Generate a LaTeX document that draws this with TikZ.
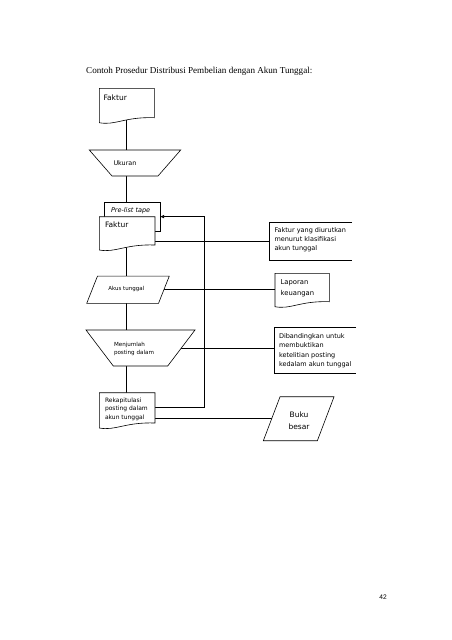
\documentclass[tikz,border=0pt]{standalone}
\usepackage{fontspec}
\usetikzlibrary{calc,arrows.meta}
\newfontfamily\comicf{DejaVu Sans}
\newfontfamily\titlef{Liberation Serif}
\newfontfamily\numf{Liberation Sans}
\pgfdeclarelayer{bglayer}
\pgfdeclarelayer{connlayer}
\pgfsetlayers{bglayer,connlayer,main}
\tikzset{
  ln/.style={line width=0.6pt},
  docline/.style={ln, draw=black, fill=white},
  docbox/.style={rectangle, draw=none, inner sep=0, outer sep=0},
  boxshape/.style={rectangle, draw, ln, fill=white, inner sep=0, outer sep=0},
  conn/.style={ln, draw},
  lbl/.style={inner sep=0, outer sep=0, align=left, anchor=north west},
  fsm/.style={font=\comicf\fontsize{#1}{10}\selectfont},
}
\newcommand\drawdoc[1]{\draw[docline] (#1.south west) -- (#1.north west) -- (#1.north east) -- ($(#1.south east)+(0,-5)$) .. controls ($(#1.south west)!0.46!(#1.south east)+(0,-6)$) and ($(#1.south west)!0.29!(#1.south east)+(0,3)$) .. (#1.south west) -- cycle;}
\newcommand\drawtrap[2]{\draw[docline] (#1.north west) -- (#1.north east) -- ([xshift=-#2pt]#1.south east) -- ([xshift=#2pt]#1.south west) -- cycle;}
\newcommand\drawpara[2]{\draw[docline] (#1.south west) -- ([xshift=-#2pt]#1.south east) -- (#1.north east) -- ([xshift=#2pt]#1.north west) -- cycle;}
\begin{document}
\begin{tikzpicture}[x=1pt,y=-1pt]
\begin{pgfonlayer}{bglayer}
\fill[white] (0,0) rectangle (452,640);
\end{pgfonlayer}
\useasboundingbox (0,0) rectangle (452,640);

\node[anchor=base west, inner sep=0, font=\titlef\fontsize{9.1}{11}\selectfont] (title) at (86,73.3) {Contoh Prosedur Distribusi Pembelian dengan Akun Tunggal:};

% shapes
\node[docbox, minimum width=55, minimum height=34.4] (fak1) at (126.8,105.5) {};
\drawdoc{fak1}
\node[docbox, minimum width=91.4, minimum height=26] (uk) at (135,163) {};
\drawtrap{uk}{22.7}
\node[boxshape, minimum width=56, minimum height=28.7] (pre) at (132,216.65) {};
\node[docbox, minimum width=55.7, minimum height=33.3] (fak2) at (127.15,233.35) {};
\drawdoc{fak2}
\node[docbox, minimum width=82.7, minimum height=38.4] (ann1) at (310.65,241.5) {};
\draw[ln] (ann1.north east) -- (ann1.north west) -- (ann1.south west) -- (ann1.south east);
\node[docbox, minimum width=82.6, minimum height=27.3] (akun) at (128,289.7) {};
\drawpara{akun}{10.8}
\node[docbox, minimum width=54.3, minimum height=33.4] (lap) at (302.15,290) {};
\drawdoc{lap}
\node[docbox, minimum width=109, minimum height=36] (menj) at (140.5,348) {};
\drawtrap{menj}{27.3}
\node[docbox, minimum width=81.7, minimum height=45.6] (ann2) at (315.15,350.5) {};
\draw[ln] (ann2.north east) -- (ann2.north west) -- (ann2.south west) -- (ann2.south east);
\node[docbox, minimum width=70.7, minimum height=44] (buku) at (298.7,418.7) {};
\drawpara{buku}{16.7}
\node[docbox, minimum width=55.7, minimum height=35.3] (rekap) at (127.15,410.35) {};
\drawdoc{rekap}

% texts
\node[lbl, anchor=west, fsm=7.5] (t1) at (103.5,97.5) {Faktur};
\node[lbl, anchor=west, fsm=6.4] (tuk) at (113.5,163.3) {Ukuran};
\node[lbl, anchor=west, font=\comicf\itshape\fontsize{6.5}{8}\selectfont] (tpre) at (111,210.6) {Pre-list tape};
\node[lbl, anchor=west, fsm=7.5] (t2) at (105,225) {Faktur};
\node[lbl, font=\comicf\fontsize{6.5}{9}\selectfont] (tann1) at (274.5,228) {Faktur yang diurutkan\\menurut klasifikasi\\akun tunggal};
\node[inner sep=0, font=\comicf\fontsize{5.5}{6.5}\selectfont] (takun) at (126.3,289.3) {Akus tunggal};
\node[lbl, font=\comicf\fontsize{6.8}{11}\selectfont] (tlap) at (280.7,280) {Laporan\\keuangan};
\node[lbl, font=\comicf\fontsize{5.6}{8.3}\selectfont] (tmenj) at (114,342) {Menjumlah\\posting dalam};
\node[lbl, font=\comicf\fontsize{6.5}{9.2}\selectfont] (tann2) at (279,333.7) {Dibandingkan untuk\\membuktikan\\ketelitian posting\\kedalam akun tunggal};
\node[lbl, font=\comicf\fontsize{6}{8.3}\selectfont] (trekap) at (105,398) {Rekapitulasi\\posting dalam\\akun tunggal};
\node[inner sep=0, align=center, font=\comicf\fontsize{7.5}{11.5}\selectfont] (tbuku) at (299,420.5) {Buku\\besar};

\node[inner sep=0, font=\numf\fontsize{6.6}{8}\selectfont] (pg) at (383,597) {42};

% connectors
\begin{pgfonlayer}{connlayer}
\coordinate (spine) at (126.3,0);
\draw[conn] (spine |- fak1) -- (spine |- uk);
\draw[conn] (spine |- uk) -- (spine |- pre);
\draw[conn] (spine |- fak2) -- (spine |- akun);
\draw[conn] (spine |- akun) -- (spine |- menj);
\draw[conn] (spine |- menj) -- (spine |- rekap);
\draw[conn] (ann1.west -| fak2.east) -- (ann1.west);
\draw[conn] (akun.center) -- (akun.center -| lap.west);
\draw[conn] (menj.center) -- (menj.center -| ann2.west);
\draw[conn] (buku.center -| rekap.east) -- (buku.center);
\coordinate (loop) at (204.3,407.3);
\draw[conn,-{Latex[length=4pt,width=3.5pt]}] (rekap.east |- loop) -- (loop) |- (pre.east);
\end{pgfonlayer}
\end{tikzpicture}
\end{document}
